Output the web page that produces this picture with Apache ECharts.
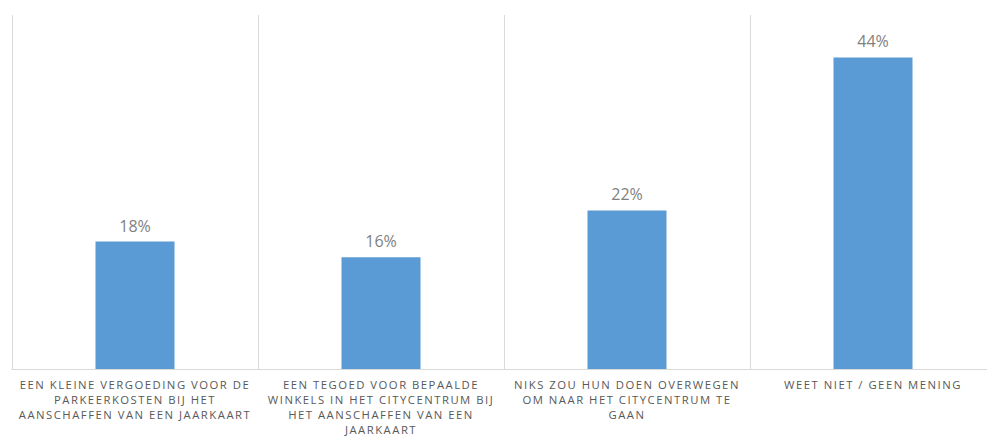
<!DOCTYPE html>
<html>
<head>
<meta charset="utf-8">
<script src="https://cdn.jsdelivr.net/npm/echarts@6/dist/echarts.min.js"></script>
<style>
html,body{margin:0;padding:0;background:#fff;}
#chart{width:987px;height:437px;}
#chart text.axlbl{letter-spacing:1.5px;}
</style>
</head>
<body>
<div id="chart"></div>
<script>
const categories = [
  "EEN KLEINE VERGOEDING VOOR DE\nPARKEERKOSTEN BIJ HET\nAANSCHAFFEN VAN EEN JAARKAART",
  "EEN TEGOED VOOR BEPAALDE\nWINKELS IN HET CITYCENTRUM BIJ\nHET AANSCHAFFEN VAN EEN\nJAARKAART",
  "NIKS ZOU HUN DOEN OVERWEGEN\nOM NAAR HET CITYCENTRUM TE\nGAAN",
  "WEET NIET / GEEN MENING"
];
const values = [18, 15.8, 22.4, 44];

const chart = echarts.init(document.getElementById('chart'), null, {renderer: 'svg'});
chart.setOption({
  animation: false,
  grid: {left: 12, width: 984, top: 15, bottom: 68, containLabel: false, outerBoundsMode: 'none'},
  xAxis: {
    type: 'category',
    data: categories,
    axisLine: {lineStyle: {color: '#d9d9d9', width: 1}},
    axisTick: {show: false},
    splitLine: {show: true, lineStyle: {color: '#d9d9d9', width: 1}},
    axisLabel: {
      interval: 0,
      margin: 8,
      color: '#595959',
      fontFamily: 'Open Sans',
      fontSize: 11.3,
      lineHeight: 15,
      align: 'center'
    }
  },
  yAxis: {
    type: 'value', min: 0, max: 50,
    show: false,
    splitLine: {show: false}
  },
  series: [{
    type: 'bar',
    data: values,
    barWidth: 79,
    itemStyle: {color: '#5b9bd5'},
    label: {
      show: true,
      position: 'top',
      distance: 8,
      color: '#7f7f7f',
      fontFamily: 'Open Sans',
      fontSize: 16,
      formatter: p => Math.round(p.value) + '%'
    }
  }]
});
document.querySelectorAll('#chart text').forEach(t => {
  if (t.textContent.indexOf('%') === -1) t.classList.add('axlbl');
});
</script>
</body>
</html>
